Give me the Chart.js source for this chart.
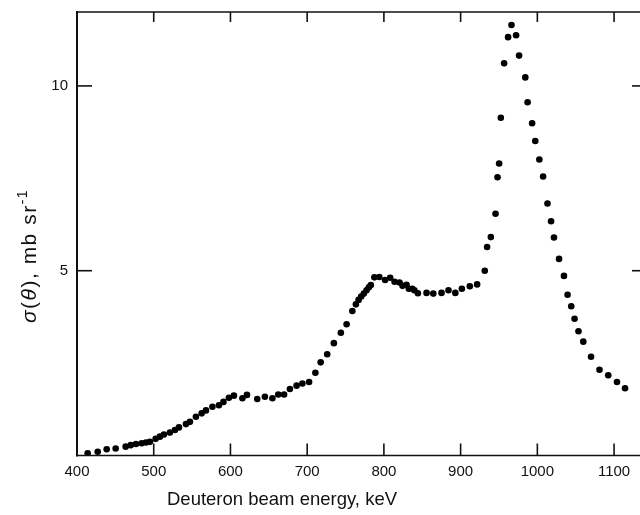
<!DOCTYPE html>
<html>
<head>
<meta charset="utf-8">
<script src="https://cdn.jsdelivr.net/npm/chart.js@4/dist/chart.umd.min.js"></script>
<style>
  html, body { margin: 0; padding: 0; background: #fff; }
  #wrap { width: 640px; height: 515px; position: relative; }
</style>
</head>
<body>
<div id="wrap"><canvas id="c" width="640" height="515"></canvas></div>
<script>
// Deuteron beam energy (keV) for each measured point
const energyKeV = [
  413.9, 427.0, 438.7, 450.4, 463.4, 470.0, 476.9, 484.3, 489.9, 495.1,
  502.5, 508.1, 513.3, 521.1, 527.7, 532.9, 542.0, 547.2, 555.0, 562.5,
  568.1, 576.5, 585.0, 590.9, 598.0, 604.5, 615.6, 621.5, 634.9, 644.9,
  654.7, 662.3, 669.9, 677.5, 686.2, 693.8, 702.5, 710.7, 717.6, 726.1,
  734.8, 743.9, 751.4, 758.9, 763.5, 767.0, 770.4, 773.9, 777.4, 780.4,
  783.0, 787.6, 794.1, 801.6, 808.2, 813.9, 820.4, 824.3, 829.5, 832.5,
  837.1, 839.7, 844.3, 855.6, 864.4, 875.1, 884.2, 893.1, 901.6, 912.0,
  921.5, 931.5, 934.5, 939.4, 945.5, 948.1, 950.2, 952.4, 956.7, 961.9,
  966.3, 972.3, 976.2, 984.3, 987.3, 993.2, 997.3, 1002.6, 1007.5, 1013.2,
  1017.9, 1021.7, 1028.3, 1034.7, 1039.4, 1044.2, 1048.5, 1053.6, 1059.9, 1070.0,
  1081.0, 1092.4, 1103.8, 1114.3
];

// Differential cross section sigma(theta), mb/sr
const sigmaMb = [
  0.06, 0.10, 0.17, 0.19, 0.24, 0.28, 0.31, 0.33, 0.35, 0.37,
  0.45, 0.51, 0.57, 0.62, 0.69, 0.76, 0.85, 0.91, 1.05, 1.14,
  1.22, 1.32, 1.36, 1.45, 1.56, 1.62, 1.55, 1.64, 1.53, 1.59,
  1.55, 1.65, 1.65, 1.80, 1.89, 1.95, 1.99, 2.24, 2.52, 2.74,
  3.04, 3.32, 3.55, 3.91, 4.09, 4.21, 4.30, 4.38, 4.47, 4.55,
  4.61, 4.82, 4.83, 4.75, 4.81, 4.70, 4.68, 4.59, 4.62, 4.51,
  4.51, 4.47, 4.39, 4.40, 4.38, 4.40, 4.47, 4.40, 4.51, 4.58,
  4.63, 5.00, 5.64, 5.91, 6.54, 7.53, 7.90, 9.14, 10.61, 11.32,
  11.65, 11.37, 10.82, 10.23, 9.56, 8.99, 8.51, 8.01, 7.55, 6.82,
  6.34, 5.90, 5.32, 4.86, 4.35, 4.04, 3.70, 3.36, 3.08, 2.67,
  2.32, 2.17, 1.99, 1.82
];

// Axis tick values
const xTickValues = [400, 500, 600, 700, 800, 900, 1000, 1100];
const yTickValues = [5, 10];
const xRange = [400, 1129.5];
const yRange = [0, 12];

const INK = '#111';
const FONT = '"Liberation Sans", Arial, Helvetica, sans-serif';

function seg(ctx, x1, y1, x2, y2) {
  ctx.beginPath();
  ctx.moveTo(x1, y1);
  ctx.lineTo(x2, y2);
  ctx.stroke();
}

// Frame with inward ticks on all four sides, plus axis titles.
// The frame runs on to the right edge of the canvas.
const framePlugin = {
  id: 'frame',
  afterDraw(chart) {
    const { ctx, chartArea: a, scales: { x, y } } = chart;
    const right = chart.width;
    ctx.save();
    ctx.strokeStyle = INK;
    ctx.fillStyle = INK;
    ctx.lineCap = 'butt';

    ctx.lineWidth = 2;
    seg(ctx, a.left, a.top - 1, a.left, a.bottom + 1);
    ctx.lineWidth = 1.5;
    seg(ctx, a.left, a.bottom, right, a.bottom);
    seg(ctx, a.left, a.top, right, a.top);

    ctx.lineWidth = 1.6;
    xTickValues.forEach(v => {
      if (v === xRange[0]) return;
      const px = x.getPixelForValue(v);
      seg(ctx, px, a.bottom, px, a.bottom - 12);
      seg(ctx, px, a.top, px, a.top + 10);
    });
    yTickValues.forEach(v => {
      const py = y.getPixelForValue(v);
      seg(ctx, a.left, py, a.left + 15, py);
      seg(ctx, right, py, right - 8, py);
    });

    // x-axis title
    ctx.font = '18.5px ' + FONT;
    ctx.textAlign = 'center';
    ctx.textBaseline = 'alphabetic';
    ctx.fillText('Deuteron beam energy, keV', 282, 505);

    // y-axis title: σ(θ), mb sr⁻¹ with italic Greek and a superscript
    const size = 21;
    const parts = [
      { t: 'σ', f: 'italic ' + size + 'px ' + FONT, dy: 0 },
      { t: '(', f: size + 'px ' + FONT, dy: 0 },
      { t: 'θ', f: 'italic ' + size + 'px ' + FONT, dy: 0 },
      { t: '), mb sr', f: size + 'px ' + FONT, dy: 0 },
      { t: '-1', f: '14px ' + FONT, dy: -9 }
    ];
    ctx.letterSpacing = '1.5px';
    let total = 0;
    parts.forEach(p => { ctx.font = p.f; p.w = ctx.measureText(p.t).width; total += p.w; });
    ctx.translate(36, 256);
    ctx.rotate(-Math.PI / 2);
    ctx.textAlign = 'left';
    let cx = -total / 2;
    parts.forEach(p => {
      ctx.font = p.f;
      ctx.fillText(p.t, cx, p.dy);
      cx += p.w;
    });
    ctx.restore();
  }
};

const points = energyKeV.map((e, i) => ({ x: e, y: sigmaMb[i] }));

new Chart(document.getElementById('c'), {
  type: 'scatter',
  data: {
    datasets: [{
      data: points,
      pointRadius: 3.3,
      pointHoverRadius: 3.3,
      pointBackgroundColor: '#000',
      pointBorderWidth: 0,
      showLine: false
    }]
  },
  options: {
    responsive: false,
    animation: false,
    devicePixelRatio: 1,
    layout: { padding: { top: 12, right: 0, left: 0, bottom: 0 } },
    plugins: { legend: { display: false }, tooltip: { enabled: false } },
    scales: {
      x: {
        type: 'linear',
        min: xRange[0],
        max: xRange[1],
        grid: { display: false, drawTicks: false },
        border: { display: false },
        ticks: {
          stepSize: 100,
          includeBounds: false,
          autoSkip: false,
          maxRotation: 0,
          padding: 7,
          color: INK,
          font: { family: FONT, size: 15 },
          callback: v => (xTickValues.includes(v) ? String(v) : '')
        },
        afterFit: s => { s.height = 59.5; s.paddingRight = 0; s.paddingLeft = 0; }
      },
      y: {
        type: 'linear',
        min: yRange[0],
        max: yRange[1],
        grid: { display: false, drawTicks: false },
        border: { display: false },
        ticks: {
          stepSize: 5,
          includeBounds: false,
          padding: 9,
          color: INK,
          font: { family: FONT, size: 15 },
          callback: v => (yTickValues.includes(v) ? String(v) : '')
        },
        afterFit: s => { s.width = 77; s.paddingTop = 0; s.paddingBottom = 0; }
      }
    }
  },
  plugins: [framePlugin]
});
</script>
</body>
</html>
